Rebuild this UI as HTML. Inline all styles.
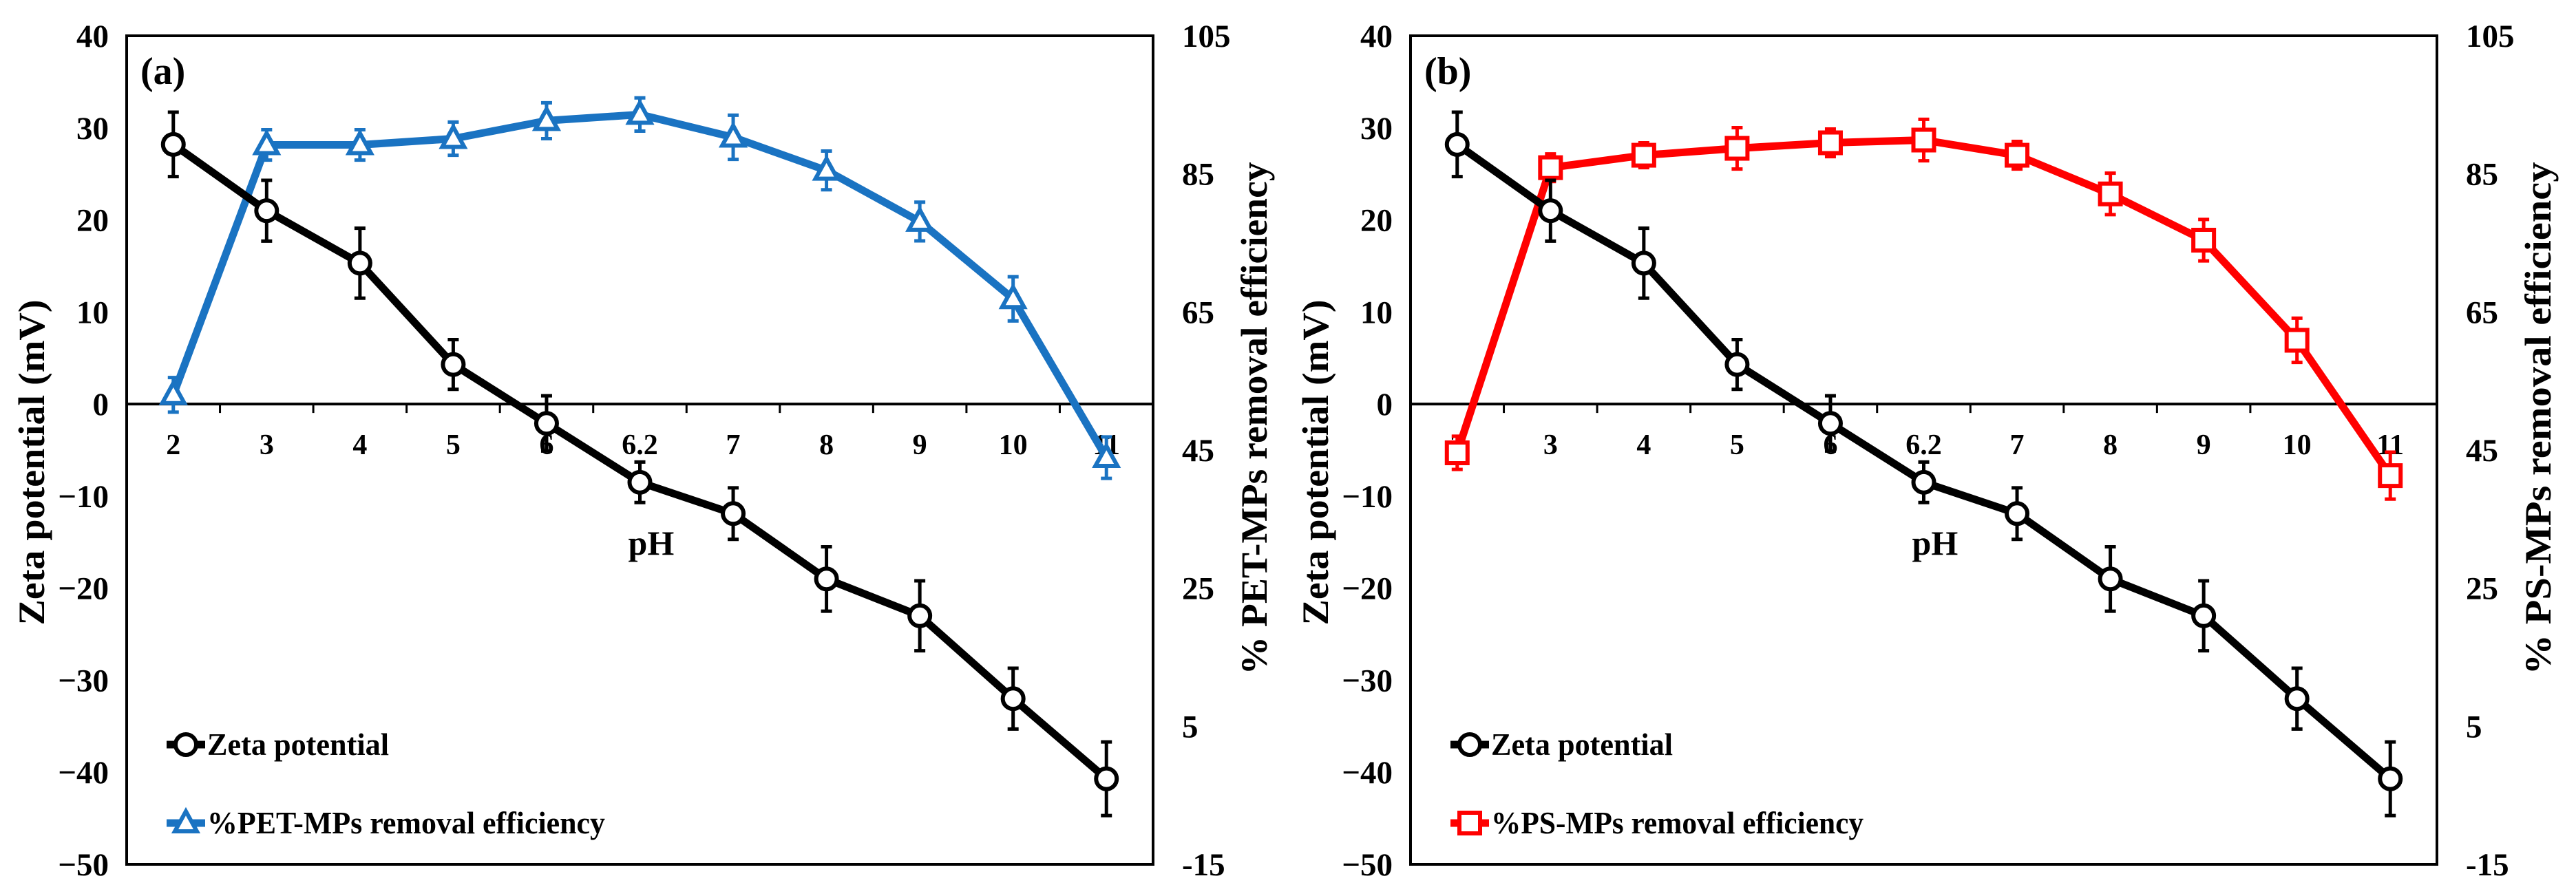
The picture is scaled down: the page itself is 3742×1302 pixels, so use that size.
<!DOCTYPE html>
<html><head><meta charset="utf-8"><style>
html,body{margin:0;padding:0;background:#fff;}
svg{display:block;font-family:"Liberation Serif",serif;font-weight:bold;}
</style></head><body>
<svg id="chart" width="3742" height="1302" viewBox="0 0 3742 1302" xmlns="http://www.w3.org/2000/svg"></svg>
<script>
const categories = ["2","3","4","5","6","6.2","7","8","9","10","11"];
const zetaValues = [28.2,21,15.3,4.3,-2.1,-8.5,-11.9,-19,-23,-32,-40.7];
const zetaErrors = [3.5,3.3,3.8,2.7,3,2.2,2.8,3.5,3.8,3.3,4];
const petValues = [53,89.2,89.2,90.1,92.7,93.6,90.3,85.5,78.1,66.9,43.9];
const petErrors = [2.5,2.2,2.2,2.4,2.6,2.4,3.2,2.8,2.8,3.2,3];
const psValues = [44.6,85.9,87.7,88.7,89.5,89.9,87.7,82.1,75.4,60.9,41.3];
const psErrors = [2.4,2,1.8,3,2,3,2,3,3,3.2,3.4];
const leftTicks = [40,30,20,10,0,-10,-20,-30,-40,-50];
const rightTicks = [105,85,65,45,25,5,-15];
const leftTickLabels = ["40","30","20","10","0","\u221210","\u221220","\u221230","\u221240","\u221250"];
const rightTickLabels = ["105","85","65","45","25","5","-15"];

const NS="http://www.w3.org/2000/svg";
const svg=document.getElementById('chart');
function mk(tag,attrs,parent){const e=document.createElementNS(NS,tag);for(const k in attrs)e.setAttribute(k,attrs[k]);(parent||svg).appendChild(e);return e;}

function panel(dx,tag,series,serErr,color,marker,rightTitle,legendText,legendLen,key){
  const g=mk('g',{});
  
  
  const L=184+dx,R=1675+dx,T=52,B=1256;
  const band=(R-L)/categories.length;
  const xs=i=>L+band*(i+0.5);
  const yl=v=>T+(40-v)/90*(B-T);
  const yr=v=>T+(105-v)/120*(B-T);
  const box=mk('rect',{x:L,y:T,width:R-L,height:B-T,fill:'none',stroke:'#000','stroke-width':4},g);
  
  
  const z=mk('line',{x1:L,x2:R,y1:yl(0),y2:yl(0),stroke:'#000','stroke-width':4},g);
  
  
  for(let i=1;i<categories.length;i++){
    const t=mk('line',{x1:L+band*i,x2:L+band*i,y1:yl(0),y2:yl(0)+13,stroke:'#000','stroke-width':3},g);
    
    
  }
  categories.forEach((c,i)=>{
    const t=mk('text',{x:xs(i),y:yl(0)+73,'font-size':42,'text-anchor':'middle'},g);
    t.textContent=c;
    
    
  });
  leftTicks.forEach((v,i)=>{
    const t=mk('text',{x:L-26,y:yl(v)+16,'font-size':47,'text-anchor':'end'},g);
    t.textContent=leftTickLabels[i];
    
    
  });
  rightTicks.forEach((v,i)=>{
    const t=mk('text',{x:R+42,y:yr(v)+16,'font-size':47,'text-anchor':'start'},g);
    t.textContent=rightTickLabels[i];
    
    
  });
  let t=mk('text',{x:0,y:0,'font-size':54,'text-anchor':'middle',textLength:473,lengthAdjust:'spacingAndGlyphs',transform:`translate(${dx+64},672) rotate(-90)`},g);
  t.textContent='Zeta  potential (mV)';
  
  
  t=mk('text',{x:0,y:0,'font-size':54,'text-anchor':'middle',textLength:745,lengthAdjust:'spacingAndGlyphs',transform:`translate(${R+165},608) rotate(-90)`},g);
  t.textContent=rightTitle;
  
  
  t=mk('text',{x:L+(R-L)*0.511,y:806,'font-size':50,'text-anchor':'middle'},g);
  t.textContent='pH';
  
  
  t=mk('text',{x:L+20,y:122,'font-size':56},g);
  t.textContent=tag;
  
  

  function drawSeries(vals,errs,yf,col,mkr,name){
    const sg=mk('g',{},g);
    
    
    const pts=vals.map((v,i)=>xs(i)+','+yf(v)).join(' ');
    const pl=mk('polyline',{points:pts,fill:'none',stroke:col,'stroke-width':11,'stroke-linejoin':'round'},sg);
    
    
    vals.forEach((v,i)=>{
      const x=xs(i),y1=yf(v+errs[i]),y2=yf(v-errs[i]);
      const e=mk('path',{d:`M${x},${y1}V${y2}M${x-8},${y1}H${x+8}M${x-8},${y2}H${x+8}`,stroke:col,'stroke-width':5,fill:'none'},sg);
      
      
      drawMarker(sg,mkr,x,yf(v),col,name);
    });
  }
  function drawMarker(p,mkr,x,y,col,name){
    let m;
    if(mkr==='circle') m=mk('circle',{cx:x,cy:y,r:15,fill:'#fff',stroke:col,'stroke-width':6},p);
    else if(mkr==='tri') m=mk('polygon',{points:`${x},${y-17} ${x+16},${y+12} ${x-16},${y+12}`,fill:'#fff',stroke:col,'stroke-width':6},p);
    else m=mk('rect',{x:x-15,y:y-15,width:30,height:30,fill:'#fff',stroke:col,'stroke-width':6},p);
    
    
  }
  drawSeries(series,serErr,yr,color,marker,key+'-removal-series');
  drawSeries(zetaValues,zetaErrors,yl,'#000','circle',key+'-zeta-series');

  const lg=mk('g',{},g);
  
  
  const ly=[1082,1196];
  const items=[['#000','circle','Zeta potential',264],[color,marker,legendText,legendLen]];
  items.forEach((it,k)=>{
    const e=mk('line',{x1:L+58,x2:L+114,y1:ly[k],y2:ly[k],stroke:it[0],'stroke-width':11},lg);
    
    
    drawMarker(lg,it[1],L+86,ly[k],it[0],'legend');
    const tt=mk('text',{x:L+117,y:ly[k]+15,'font-size':46,textLength:it[3],lengthAdjust:'spacingAndGlyphs'},lg);
    tt.textContent=it[2];
    
    
  });
}
panel(0,'(a)',petValues,petErrors,'#1a73c2','tri','% PET-MPs removal  efficiency','%PET-MPs removal efficiency',578,'a');
panel(1865,'(b)',psValues,psErrors,'#ff0000','sq','% PS-MPs removal  efficiency','%PS-MPs removal efficiency',541,'b');
</script>
</body></html>
